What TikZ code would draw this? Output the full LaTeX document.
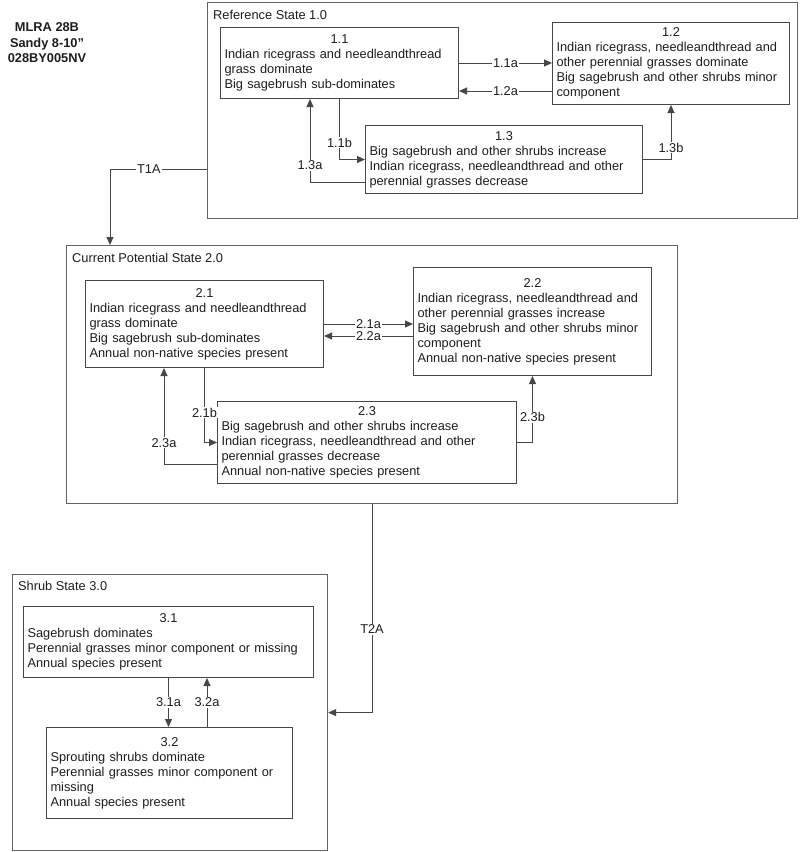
\documentclass[tikz,border=0pt]{standalone}
\usepackage{fontspec}
\setmainfont{Liberation Sans}
\usetikzlibrary{arrows.meta}
\definecolor{lc}{HTML}{474747}
\definecolor{tc}{HTML}{1E1E1E}
\newcommand\fs{\fontsize{12.8}{15}\selectfont}
\newcommand\boxttl[1]{\makebox[\linewidth][c]{#1}\\}
\tikzset{
  box/.style={draw=lc, line width=1pt, anchor=north west, align=left, inner xsep=4pt, inner ysep=0pt, font=\fs, text=tc},
  statebox/.style={draw=lc!85, line width=1.2pt, anchor=north west, inner sep=0pt},
  statettl/.style={anchor=west, inner sep=0pt, font=\fs, text=tc},
  arr/.style={draw=lc, line width=1pt, -{Triangle[length=8pt,width=7pt]}},
  lab/.style={fill=white, inner sep=1pt, font=\fs, text=tc},
}
\begin{document}
\begin{tikzpicture}[x=1pt,y=-1pt]
\useasboundingbox[fill=white] (0,0) rectangle (800,852);

% header
\node[font=\bfseries\fontsize{12.8}{15.5}\selectfont, align=center, text=tc] (hdr) at (47,43) {MLRA 28B\\Sandy 8-10”\\028BY005NV};

% state containers
\node[statebox, minimum width=590, minimum height=216] (s1) at (207,2) {};
\node[statettl] (t1) at (213,15) {Reference State 1.0};
\node[statebox, minimum width=611, minimum height=258] (s2) at (66,245) {};
\node[statettl] (t2) at (72,258) {Current Potential State 2.0};
\node[statebox, minimum width=315, minimum height=276] (s3) at (12,574) {};
\node[statettl] (t3) at (18,586) {Shrub State 3.0};

% community boxes
\node[box, text width=230, minimum height=71] (b11) at (220,27) {\boxttl{1.1}Indian ricegrass and needleandthread\\grass dominate\\Big sagebrush sub-dominates};
\node[box, text width=229, minimum height=82] (b12) at (552,22) {\boxttl{1.2}Indian ricegrass, needleandthread and\\other perennial grasses dominate\\Big sagebrush and other shrubs minor\\component};
\node[box, text width=269, minimum height=68] (b13) at (365,125) {\boxttl{1.3}Big sagebrush and other shrubs increase\\Indian ricegrass, needleandthread and other\\perennial grasses decrease};

\node[box, text width=230, minimum height=87] (b21) at (85,280) {\boxttl{2.1}Indian ricegrass and needleandthread\\grass dominate\\Big sagebrush sub-dominates\\Annual non-native species present};
\node[box, text width=230, minimum height=108] (b22) at (413,267) {\boxttl{2.2}Indian ricegrass, needleandthread and\\other perennial grasses increase\\Big sagebrush and other shrubs minor\\component\\Annual non-native species present};
\node[box, text width=291, minimum height=82] (b23) at (217,401) {\boxttl{2.3}Big sagebrush and other shrubs increase\\Indian ricegrass, needleandthread and other\\perennial grasses decrease\\Annual non-native species present};

\node[box, text width=282, minimum height=71] (b31) at (23,606) {\boxttl{3.1}Sagebrush dominates\\Perennial grasses minor component or missing\\Annual species present};
\node[box, text width=238, minimum height=91] (b32) at (46,727) {\boxttl{3.2}Sprouting shrubs dominate\\Perennial grasses minor component or\\missing\\Annual species present};

% helper coordinates
\coordinate (y12a) at (0,91);
\coordinate (c13a) at (310,182);
\coordinate (c1) at (110,169);
\coordinate (y22a) at (0,336);
\coordinate (c23a) at (164,464);
\coordinate (c2) at (372,0);
\coordinate (c32) at (207,0);

% state 1 pathways
\draw[arr] (b11.east) -- (b11.east -| b12.west) node[lab,pos=.5]{1.1a};
\draw[arr] (b12.west |- y12a) -- (b11.east |- y12a) node[lab,pos=.5]{1.2a};
\draw[arr] (b11.south) |- (b13.west) node[lab,pos=.36]{1.1b};
\draw[arr] (b13.west |- c13a) -| (b11.south -| c13a) node[lab,pos=.6]{1.3a};
\draw[arr] (b13.east) -| (b12.south) node[lab,pos=.61]{1.3b};

% transition T1A
\draw[arr] (s1.west |- c1) -| (s2.north -| c1) node[lab,pos=.3]{T1A};

% state 2 pathways
\draw[arr] (b21.east) -- (b21.east -| b22.west) node[lab,pos=.5]{2.1a};
\draw[arr] (b22.west |- y22a) -- (b21.east |- y22a) node[lab,pos=.5]{2.2a};
\draw[arr] (b21.south) |- (b23.west) node[lab,pos=.3]{2.1b};
\draw[arr] (b23.west |- c23a) -| (b21.south -| c23a) node[lab,pos=.61]{2.3a};
\draw[arr] (b23.east) -| (b22.south) node[lab,pos=.69]{2.3b};

% transition T2A
\draw[arr] (s2.south -| c2) |- (s3.east) node[lab,pos=.3]{T2A};

% state 3 pathways
\draw[arr] (b31.south) -- (b31.south |- b32.north) node[lab,midway]{3.1a};
\draw[arr] (b32.north -| c32) -- (b31.south -| c32) node[lab,midway]{3.2a};
\end{tikzpicture}
\end{document}
